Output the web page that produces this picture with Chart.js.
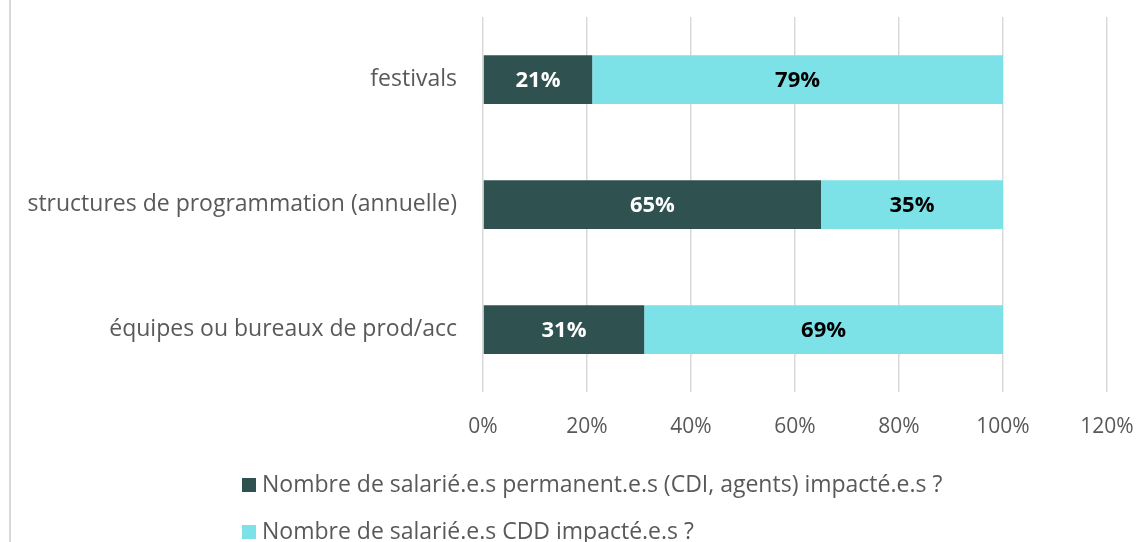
<!DOCTYPE html>
<html lang="fr">
<head>
    <meta charset="UTF-8">
    <title>Salarié.e.s impacté.e.s</title>
    <script src="https://cdn.jsdelivr.net/npm/chart.js"></script>
    <style>
        html, body { margin: 0; padding: 0; background: #fff; }
        #wrap { position: relative; width: 1142px; height: 542px; }
    </style>
</head>
<body>
    <div id="wrap"><canvas id="chart"></canvas></div>
    <script>
        const categories = ['festivals', 'structures de programmation (annuelle)', 'équipes ou bureaux de prod/acc'];
        const permanents = [21, 65, 31];
        const cdd = [79, 35, 69];
        const seriesLabels = [
            'Nombre de salarié.e.s permanent.e.s (CDI, agents) impacté.e.s ?',
            'Nombre de salarié.e.s CDD impacté.e.s ?'
        ];
        const colors = ['#2f5150', '#7de2e8'];
        const labelColors = ['#ffffff', '#000000'];
        const FONT = '"Open Sans", sans-serif';

        // étiquettes de valeur au centre des barres
        const barLabels = {
            id: 'barLabels',
            afterDatasetsDraw(chart) {
                const ctx = chart.ctx;
                ctx.save();
                ctx.font = 'bold 22px ' + FONT;
                ctx.textAlign = 'center';
                ctx.textBaseline = 'middle';
                chart.data.datasets.forEach((ds, i) => {
                    chart.getDatasetMeta(i).data.forEach((bar, j) => {
                        ctx.fillStyle = labelColors[i];
                        ctx.fillText(ds.data[j] + '%', (bar.x + bar.base) / 2, bar.y + 1);
                    });
                });
                ctx.restore();
            }
        };

        // légende empilée + bordure gauche
        const stackedLegend = {
            id: 'stackedLegend',
            afterDraw(chart) {
                const ctx = chart.ctx;
                ctx.save();
                ctx.fillStyle = '#d9d9d9';
                ctx.fillRect(9, 0, 2, chart.height);
                ctx.font = '23px ' + FONT;
                ctx.textBaseline = 'middle';
                chart.data.datasets.forEach((ds, i) => {
                    const y = 485 + i * 47;
                    ctx.fillStyle = ds.backgroundColor;
                    ctx.fillRect(242, y - 7, 14, 14);
                    ctx.fillStyle = '#595959';
                    ctx.fillText(ds.label, 262, y);
                });
                ctx.restore();
            }
        };

        new Chart(document.getElementById('chart'), {
            type: 'bar',
            data: {
                labels: categories,
                datasets: [
                    { label: seriesLabels[0], data: permanents, backgroundColor: colors[0] },
                    { label: seriesLabels[1], data: cdd, backgroundColor: colors[1] }
                ]
            },
            options: {
                indexAxis: 'y',
                responsive: true,
                maintainAspectRatio: false,
                animation: false,
                datasets: { bar: { categoryPercentage: 1, barPercentage: 0.39 } },
                layout: { padding: { top: 17, right: 35, bottom: 90, left: 0 } },
                scales: {
                    x: {
                        stacked: true,
                        min: 0,
                        max: 120,
                        afterFit(s) { s.height = 60; s.paddingLeft = 0; s.paddingRight = 0; },
                        border: { display: false },
                        grid: { color: '#d9d9d9', lineWidth: 1.5, drawTicks: false },
                        ticks: {
                            stepSize: 20,
                            padding: 22,
                            color: '#595959',
                            font: { family: FONT, size: 21 },
                            callback: v => v + '%'
                        }
                    },
                    y: {
                        stacked: true,
                        afterFit(s) { s.width = 483; s.paddingTop = 0; s.paddingBottom = 0; },
                        border: { display: false },
                        grid: { display: false, drawTicks: false },
                        ticks: {
                            padding: 26,
                            color: '#595959',
                            font: { family: FONT, size: 23 }
                        }
                    }
                },
                plugins: {
                    legend: { display: false },
                    tooltip: { enabled: false }
                }
            },
            plugins: [barLabels, stackedLegend]
        });
    </script>
</body>
</html>
